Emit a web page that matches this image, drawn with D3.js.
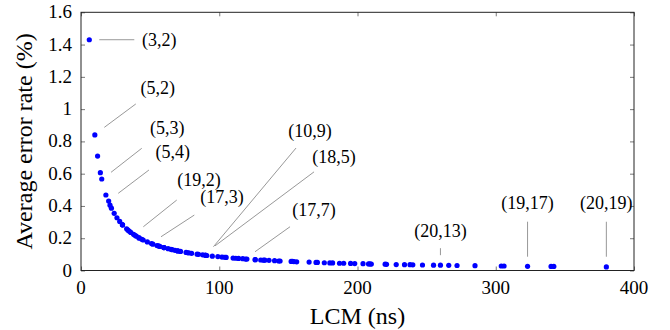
<!DOCTYPE html>
<html><head><meta charset="utf-8">
<script src="https://cdn.jsdelivr.net/npm/d3@7/dist/d3.min.js"></script>
<style>body{margin:0;background:#fff} svg{display:block}</style>
</head><body>
<svg id="chart" width="670" height="330"></svg>
<script>
// ---- data ----
const pairA = [3,5,4,7,5,9,5,7,11,8,13,7,6,10,15,11,17,7,9,19,13,8,7,14,11,9,16,17,13,11,8,19,12,15,20,9,13,11,17,10,14,9,19,11,13,16,12,17,11,10,18,13,19,11,17,13,15,11,16,19,13,17,15,14,18,13,12,19,17,20,13,16,19,17,14,13,15,17,19,16,20,14,17,19,15,18,17,16,19,15,20,17,19,18,17,16,19,17,20,19,17,19,19,18,19,20,19,20];
const pairB = [2,2,3,2,3,2,4,3,2,3,2,4,5,3,2,3,2,5,4,2,3,5,6,3,4,5,3,3,4,5,7,3,5,4,3,7,5,6,4,7,5,8,4,7,6,5,7,5,8,9,5,7,5,9,6,8,7,10,7,6,9,7,8,9,7,10,11,7,8,7,11,9,8,9,11,12,11,10,9,11,9,13,11,10,13,11,12,13,11,14,11,13,12,13,14,15,13,15,13,14,16,15,16,17,17,17,18,19];
const lcmNs = [6,10,12,14,15,18,20,21,22,24,26,28,30,30,30,33,34,35,36,38,39,40,42,42,44,45,48,51,52,55,56,57,60,60,60,63,65,66,68,70,70,72,76,77,78,80,84,85,88,90,90,91,95,99,102,104,105,110,112,114,117,119,120,126,126,130,132,133,136,140,143,144,152,153,154,156,165,170,171,176,180,182,187,190,195,198,204,208,209,210,220,221,228,234,238,240,247,255,260,266,272,285,304,306,323,340,342,380];
const errorRate = [1.43,0.84,0.709,0.606,0.567,0.468,0.43,0.405,0.386,0.354,0.327,0.304,0.283,0.283,0.283,0.258,0.25,0.243,0.236,0.224,0.218,0.213,0.202,0.202,0.193,0.189,0.177,0.167,0.163,0.155,0.152,0.149,0.142,0.142,0.142,0.135,0.131,0.129,0.125,0.121,0.121,0.118,0.112,0.11,0.109,0.106,0.101,0.1,0.097,0.094,0.095,0.093,0.089,0.086,0.083,0.082,0.081,0.077,0.076,0.075,0.073,0.071,0.071,0.067,0.067,0.065,0.064,0.064,0.063,0.061,0.059,0.059,0.056,0.056,0.055,0.054,0.052,0.05,0.05,0.048,0.047,0.047,0.045,0.045,0.044,0.043,0.042,0.041,0.041,0.04,0.039,0.038,0.037,0.036,0.036,0.035,0.034,0.033,0.033,0.032,0.031,0.03,0.028,0.028,0.026,0.025,0.025,0.022];
const annotatedPairs = ["(3,2)","(5,2)","(5,3)","(5,4)","(19,2)","(17,3)","(10,9)","(18,5)","(17,7)","(20,13)","(19,17)","(20,19)"];
const xTicks = [0,100,200,300,400];
const xTickLabels = ["0","100","200","300","400"];
const yTicks = [0,0.2,0.4,0.6,0.8,1,1.2,1.4,1.6];
const yTickLabels = ["0","0.2","0.4","0.6","0.8","1","1.2","1.4","1.6"];
const xTitle = "LCM (ns)";
const yTitle = "Average error rate (%)";

// ---- layout (pixel offsets of each pin relative to its point) ----
const pinLayout = {
  "(3,2)":   {s:[10,0],   e:[45,0],     t:[70,0]},
  "(5,2)":   {s:[9.5,-7.6], e:[41,-31], t:[63,-47]},
  "(5,3)":   {s:[9.3,-6.7], e:[40,-30.7], t:[65.5,-51]},
  "(5,4)":   {s:[9.6,-7.8], e:[40.3,-31.1], t:[64,-49.4]},
  "(19,2)":  {s:[9.8,-7.6], e:[43.2,-34.3], t:[65.5,-54.3]},
  "(17,3)":  {s:[9.5,-6.8], e:[42.8,-28.5], t:[70.5,-46.8]},
  "(10,9)":  {s:[8,-8.6],  e:[90.6,-107.3], t:[104.6,-124.3]},
  "(18,5)":  {s:[9.6,-9.3], e:[108.6,-83.3], t:[128.6,-98.3]},
  "(17,7)":  {s:[9.5,-7.3], e:[44.5,-32.3], t:[68.5,-49]},
  "(20,13)": {s:[0,-10],   e:[0,-17],    t:[0,-34]},
  "(19,17)": {s:[0,-9.6],  e:[0,-44.6],  t:[0,-63]},
  "(20,19)": {s:[0,-10.2], e:[0,-45.2],  t:[0,-64]}
};

const FONT = '"Liberation Serif"';
const NUM_FONT = '"Times New Roman"';
const TICK_FS = 19, PIN_FS = 18, TITLE_FS = 24;
const svg = d3.select("#chart");
const L = 81, R = 634, T = 12.3, B = 270.5;
const x = d3.scaleLinear().domain([0,400]).range([L,R]);
const y = d3.scaleLinear().domain([0,1.6]).range([B,T]);

const pts = lcmNs.map((v,i)=>({x:v,y:errorRate[i],key:"("+pairA[i]+","+pairB[i]+")"}));

// axis tick marks (inward, all four sides)
const mk = (axis, tr) => {
  const g = svg.append("g").attr("transform",tr)
    .call(axis.tickSizeInner(-4).tickSizeOuter(0).tickFormat(""));
  g.select(".domain").remove();
  g.selectAll(".tick text").remove();
  g.selectAll(".tick line").attr("stroke","#555").attr("stroke-width",0.8);
};
mk(d3.axisBottom(x).tickValues(xTicks), `translate(0,${B})`);
mk(d3.axisTop(x).tickValues(xTicks), `translate(0,${T})`);
mk(d3.axisLeft(y).tickValues(yTicks), `translate(${L},0)`);
mk(d3.axisRight(y).tickValues(yTicks), `translate(${R},0)`);

const addText = (txt, xx, yy, fs, anchor, fam) =>
  svg.append("text").attr("x",xx).attr("y",yy).attr("text-anchor",anchor)
    .attr("font-family",fam).style("font-family",fam).style("font-size",fs+"px").style("fill","#000").text(txt);
xTicks.forEach((v,i)=>addText(xTickLabels[i], x(v), B+10+0.71*TICK_FS, TICK_FS, "middle", NUM_FONT));
yTicks.forEach((v,i)=>addText(yTickLabels[i], L-9, y(v)+0.32*TICK_FS, TICK_FS, "end", NUM_FONT));

// frame
svg.append("rect").attr("x",L).attr("y",T).attr("width",R-L).attr("height",B-T)
  .attr("fill","none").attr("stroke","#222").attr("stroke-width",1);

// pins
annotatedPairs.forEach(k=>{
  const p = pts.find(d=>d.key===k);
  const lay = pinLayout[k];
  const px = x(p.x), py = y(p.y);
  svg.append("line").attr("x1",px+lay.s[0]).attr("y1",py+lay.s[1])
    .attr("x2",px+lay.e[0]).attr("y2",py+lay.e[1])
    .attr("stroke","#8c8c8c").attr("stroke-width",0.9);
  addText(k, px+lay.t[0], py+lay.t[1]+0.33*PIN_FS, PIN_FS, "middle", NUM_FONT);
});

// points
svg.append("g").selectAll("circle").data(pts).join("circle")
  .attr("cx",d=>x(d.x)).attr("cy",d=>y(d.y)).attr("r",2.6).attr("fill","#0000ff");

// titles
addText(xTitle, (L+R)/2, 324, TITLE_FS, "middle", FONT);
svg.append("text").attr("transform",`translate(32,${(T+B)/2}) rotate(-90)`).attr("text-anchor","middle")
  .style("font-family",FONT).style("font-size",TITLE_FS+"px").text(yTitle);
</script>
</body></html>
